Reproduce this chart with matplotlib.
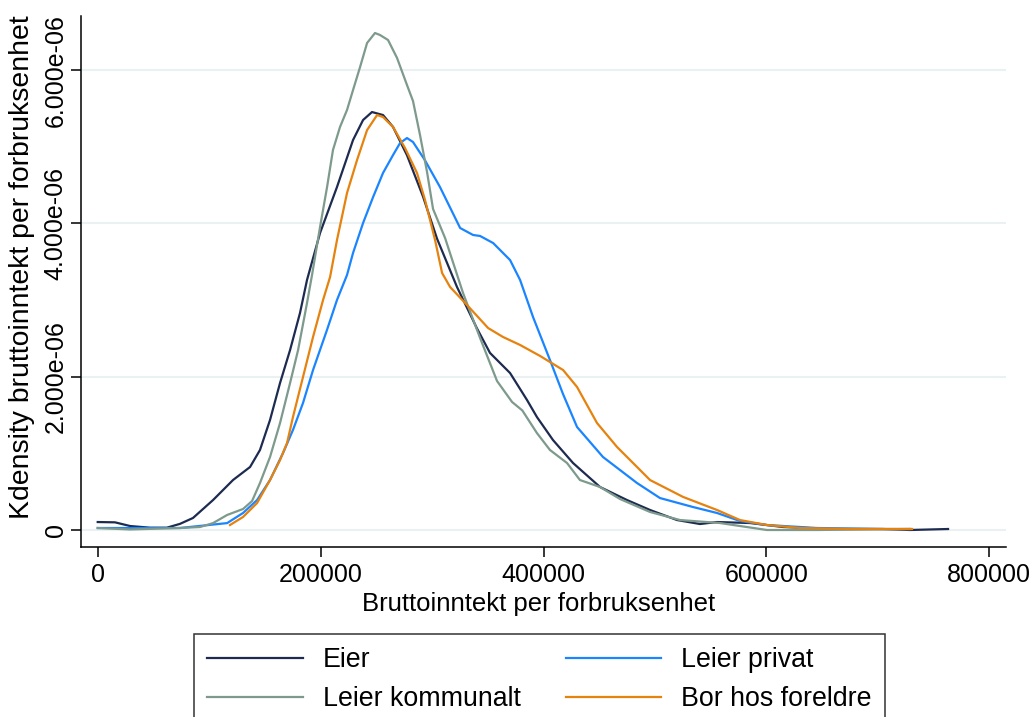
import matplotlib
matplotlib.use("Agg")
import matplotlib.pyplot as plt
import numpy as np

plt.rcParams["font.family"] = ["Liberation Sans", "DejaVu Sans"]

# Kernel density estimates of gross income per consumption unit (density in 1e-6)
eier_x = [0, 15500, 29000, 47000, 62000, 73800, 85500, 103500, 121400, 136700,
          145600, 154600, 163600, 172600, 181500, 187800, 199500, 214700, 229100, 238100,
          246100, 256000, 265000, 277500, 291900, 304500, 322400, 340300, 352000, 370000,
          385200, 394100, 408500, 426500, 450700, 474900, 495600, 519800, 540400, 555700,
          585300, 614900, 659800, 704600, 728900, 763000]
eier_y = [0.104, 0.100, 0.052, 0.030, 0.030, 0.080, 0.157, 0.391, 0.652, 0.822,
          1.044, 1.435, 1.918, 2.348, 2.831, 3.262, 3.875, 4.475, 5.088, 5.349,
          5.453, 5.414, 5.258, 4.890, 4.350, 3.800, 3.170, 2.630, 2.310, 2.048,
          1.696, 1.474, 1.174, 0.874, 0.561, 0.391, 0.261, 0.130, 0.078, 0.104,
          0.091, 0.039, 0.013, 0.013, 0.000, 0.013]

privat_x = [0, 73800, 116100, 130400, 143000, 154600, 166300, 175200, 184200, 193200,
            205700, 214700, 223700, 229100, 238100, 247100, 256000, 265000, 271300, 277500,
            282900, 293500, 307100, 325200, 336800, 343100, 354800, 370000, 379000, 390600,
            405800, 417500, 430100, 453400, 483900, 504500, 534100, 555700, 576300, 600500,
            645400, 704600, 728900]
privat_y = [0.026, 0.026, 0.090, 0.222, 0.391, 0.652, 1.005, 1.305, 1.657, 2.087,
            2.609, 3.001, 3.327, 3.614, 4.005, 4.344, 4.658, 4.892, 5.049, 5.114,
            5.062, 4.827, 4.475, 3.940, 3.849, 3.836, 3.744, 3.522, 3.262, 2.779,
            2.218, 1.774, 1.344, 0.952, 0.613, 0.417, 0.300, 0.222, 0.117, 0.065,
            0.026, 0.013, 0.013]

kommunalt_x = [0, 29000, 73800, 91800, 103500, 116100, 130400, 138500, 145600, 154600,
               163600, 172600, 179800, 187800, 192300, 199500, 205800, 211100, 217400, 223700,
               229100, 235400, 241700, 248800, 253300, 260500, 268600, 277500, 282900, 289200,
               295500, 300900, 311700, 327800, 343100, 358300, 371800, 381000, 394100, 405800,
               421100, 432700, 450700, 468700, 495600, 522500, 558400, 576300, 600500, 645400,
               728900]
kommunalt_y = [0.026, 0.007, 0.026, 0.039, 0.090, 0.196, 0.274, 0.378, 0.613, 0.952,
               1.396, 1.918, 2.348, 2.962, 3.327, 3.953, 4.475, 4.958, 5.258, 5.480,
               5.740, 6.040, 6.354, 6.484, 6.458, 6.393, 6.158, 5.806, 5.597, 5.153,
               4.671, 4.188, 3.809, 3.092, 2.505, 1.944, 1.670, 1.560, 1.265, 1.044,
               0.874, 0.652, 0.561, 0.404, 0.235, 0.130, 0.091, 0.052, 0.000, 0.000,
               0.013]

foreldre_x = [118700, 130400, 143000, 154600, 163600, 169900, 175200, 184200, 193200, 202200,
              208500, 214700, 223700, 232700, 241700, 250700, 256000, 265000, 275700, 286500,
              293700, 302700, 309000, 316200, 331400, 350300, 363700, 379000, 397000, 417600,
              430100, 448000, 466000, 495600, 525300, 555700, 576300, 600500, 630300, 675200,
              730700]
foreldre_y = [0.065, 0.170, 0.352, 0.652, 0.913, 1.135, 1.474, 1.996, 2.518, 3.001,
              3.301, 3.783, 4.397, 4.827, 5.218, 5.414, 5.388, 5.258, 4.984, 4.658,
              4.305, 3.783, 3.353, 3.170, 2.935, 2.635, 2.518, 2.414, 2.270, 2.087,
              1.866, 1.396, 1.083, 0.652, 0.431, 0.261, 0.130, 0.065, 0.026, 0.013,
              0.013]

x_ticks = [0, 200000, 400000, 600000, 800000]
y_ticks = [0, 2e-6, 4e-6, 6e-6]

FS_TICK = 18
FS_XLAB = 18.5
FS_YLAB = 20.4
FS_LEG = 19.3

fig = plt.figure(figsize=(10.36, 7.17), dpi=100)
ax = fig.add_axes([81 / 1036, 1 - 547 / 717, (1006 - 81) / 1036, (547 - 16) / 717])

series = [
    ("Eier", eier_x, eier_y, "#1d2b50"),
    ("Leier privat", privat_x, privat_y, "#1a85ff"),
    ("Leier kommunalt", kommunalt_x, kommunalt_y, "#7d9a8c"),
    ("Bor hos foreldre", foreldre_x, foreldre_y, "#e6820e"),
]
handles = {}
for name, xs, ys, col in series:
    (h,) = ax.plot(xs, np.array(ys) * 1e-6, color=col, lw=1.6, label=name,
                   solid_joinstyle="round")
    handles[name] = h

ax.set_xlim(-15000, 815000)
ax.set_ylim(-0.2218e-6, 6.706e-6)

ax.set_xticks(x_ticks)
ax.set_xticklabels([f"{v:d}" for v in x_ticks])
ax.set_yticks(y_ticks)
ax.set_yticklabels(["0" if v == 0 else f"{v:.3e}" for v in y_ticks],
                   rotation=90, va="center")

ax.grid(axis="y", color="#eaf1f3", lw=1.5)
ax.set_axisbelow(True)
for s in ("top", "right"):
    ax.spines[s].set_visible(False)
for s in ("left", "bottom"):
    ax.spines[s].set_linewidth(1.1)

ax.tick_params(axis="both", length=7.2, width=1.1, labelsize=FS_TICK, color="black")
ax.tick_params(axis="x", pad=4.0)
ax.tick_params(axis="y", pad=2.5)

ax.set_xlabel("Bruttoinntekt per forbruksenhet", fontsize=FS_XLAB, va="center")
ax.xaxis.set_label_coords(0.495, (547 - 604) / 531)
ax.set_ylabel("Kdensity bruttoinntekt per forbruksenhet", fontsize=FS_YLAB, va="center")
ax.yaxis.set_label_coords((22 - 81) / 925, (547 - 267.5) / 531)

# two columns: Eier / Leier kommunalt on the left, Leier privat / Bor hos foreldre on the right
order = ["Eier", "Leier kommunalt", "Leier privat", "Bor hos foreldre"]
leg = fig.legend([handles[n] for n in order], order, ncol=2,
                 loc="upper left", bbox_to_anchor=(194 / 1036, 1 - 634 / 717),
                 borderaxespad=0, frameon=True, fancybox=False, fontsize=FS_LEG,
                 handlelength=3.55, handletextpad=0.75, columnspacing=1.68,
                 labelspacing=0.47, borderpad=0.5)
leg.get_frame().set_edgecolor("black")
leg.get_frame().set_linewidth(1.1)
for ln in leg.get_lines():
    ln.set_linewidth(1.6)

fig.savefig("out.png", dpi=100)
